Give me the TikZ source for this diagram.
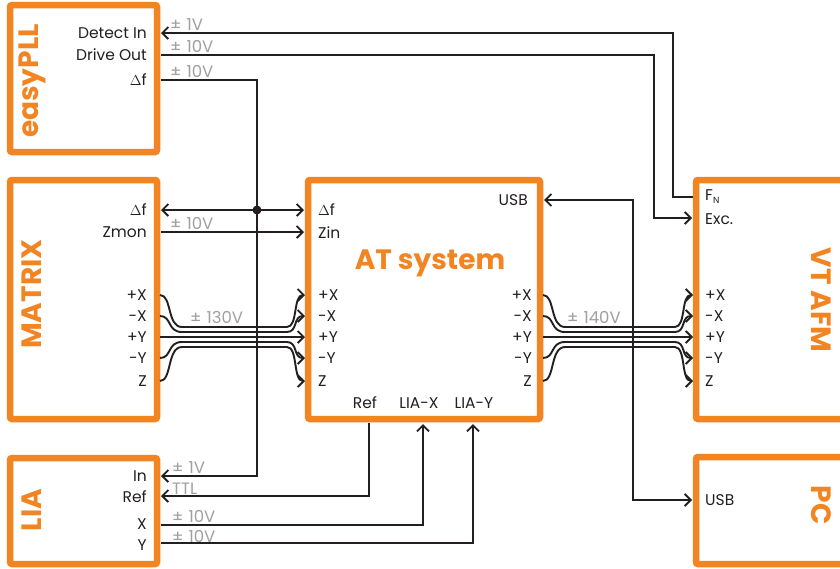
\documentclass[tikz,border=0pt]{standalone}
\usepackage{fontspec}
\setmainfont{Poppins}
\usetikzlibrary{arrows.meta}
\definecolor{orng}{RGB}{242,133,34}
\definecolor{ink}{RGB}{35,31,32}
\definecolor{volt}{RGB}{160,160,160}
\newcommand{\pmv}[1]{±\hspace{5pt}#1}
\tikzset{
  box/.style={draw=orng, line width=6.5pt, rounded corners=2pt, fill=white, inner sep=0pt},
  title/.style={text=orng, font=\fontsize{28}{28}\selectfont\bfseries, inner sep=0pt},
  lbl/.style={text=ink, font=\fontsize{15.5}{15.5}\selectfont, inner sep=0pt},
  lblr/.style={lbl, anchor=east},
  lbll/.style={lbl, anchor=west},
  vlt/.style={text=volt, font=\fontsize{16.5}{16.5}\selectfont, inner sep=0pt, anchor=south west},
  conn/.style={draw=ink, line width=1.9pt, arrows={-}},
  tip/.style={-{Straight Barb[length=6pt,width=12pt,line width=1.9pt]}},
  tips/.style={{Straight Barb[length=6pt,width=12pt,line width=1.9pt]}-{Straight Barb[length=6pt,width=12pt,line width=1.9pt]}},
  jdot/.style={circle, fill=ink, minimum size=9pt, inner sep=0pt},
}
\begin{document}
\begin{tikzpicture}[x=1pt,y=-1pt]
\clip (0,0) rectangle (840,568);
\fill[white] (0,0) rectangle (840,568);

% boxes
\node[box, minimum width=147pt, minimum height=147pt] (pll) at (83.5,78.5) {};
\node[box, minimum width=147pt, minimum height=239pt] (mat) at (83.5,299.5) {};
\node[box, minimum width=147pt, minimum height=106pt] (lia) at (83.5,511) {};
\node[box, minimum width=232pt, minimum height=239pt] (at) at (424,299.5) {};
\node[box, minimum width=180pt, minimum height=239pt] (afm) at (786,299.5) {};
\node[box, minimum width=180pt, minimum height=107pt] (pc) at (786,510.5) {};

% titles
\node[title, rotate=90] (tpll) at (32,81) {easyPLL};
\node[title, rotate=90] (tmat) at (32,294) {MATRIX};
\node[title, rotate=90] (tlia) at (32,510) {LIA};
\node[title, rotate=-90] (tafm) at (821,300) {VT AFM};
\node[title, rotate=-90] (tpc) at (821,505) {PC};
\node[title] (tat) at (430,263) {AT system};

% port labels easyPLL
\node[lblr] (lDet) at (147,33) {Detect In};
\node[lblr] (lDrv) at (147,55) {Drive Out};
\node[lblr] (lDfp) at (147,80) {$\Delta$f};
% MATRIX
\node[lblr] (lDfm) at (147,210) {$\Delta$f};
\node[lblr] (lZm) at (147,232) {Zmon};
\node[lblr] (lm1) at (147,295) {+X};
\node[lblr] (lm2) at (147,316) {-X};
\node[lblr] (lm3) at (147,337) {+Y};
\node[lblr] (lm4) at (147,358) {-Y};
\node[lblr] (lm5) at (147,381) {Z};
% LIA
\node[lblr] (lIn) at (147,476) {In};
\node[lblr] (lRef) at (147,497) {Ref};
\node[lblr] (lX) at (147,524) {X};
\node[lblr] (lY) at (147,545) {Y};
% AT left
\node[lbll] (la0) at (318,210) {$\Delta$f};
\node[lbll] (laz) at (318,233) {Zin};
\node[lbll] (la1) at (318,295) {+X};
\node[lbll] (la2) at (318,316) {-X};
\node[lbll] (la3) at (318,337) {+Y};
\node[lbll] (la4) at (318,358) {-Y};
\node[lbll] (la5) at (318,381) {Z};
% AT right
\node[lblr] (lusb) at (528,200) {USB};
\node[lblr] (lb1) at (532,295) {+X};
\node[lblr] (lb2) at (532,316) {-X};
\node[lblr] (lb3) at (532,337) {+Y};
\node[lblr] (lb4) at (532,358) {-Y};
\node[lblr] (lb5) at (532,381) {Z};
% AT bottom
\node[lbl] (lref) at (365,403) {Ref};
\node[lbl] (llx) at (419,403) {LIA-X};
\node[lbl] (lly) at (474,403) {LIA-Y};
% AFM
\node[lbll] (lfn) at (705,197) {F{\fontsize{9}{9}\selectfont\raisebox{-3pt}{N}}};
\node[lbll] (lexc) at (705,219) {Exc.};
\node[lbll] (lc1) at (705,295) {+X};
\node[lbll] (lc2) at (705,316) {-X};
\node[lbll] (lc3) at (705,337) {+Y};
\node[lbll] (lc4) at (705,358) {-Y};
\node[lbll] (lc5) at (705,381) {Z};
% PC
\node[lbll] (lpc) at (705,500) {USB};

% voltage labels
\node[vlt] (v1) at (170,31) {\pmv{1V}};
\node[vlt] (v2) at (170,53) {\pmv{10V}};
\node[vlt] (v3) at (170,78) {\pmv{10V}};
\node[vlt] (v4) at (170,230) {\pmv{10V}};
\node[vlt] (v5) at (190,324) {\pmv{130V}};
\node[vlt] (v6) at (567,324) {\pmv{140V}};
\node[vlt] (v7) at (172,474) {\pmv{1V}};
\node[vlt] (v8) at (172,495) {TTL};
\node[vlt] (v9) at (172,523) {\pmv{10V}};
\node[vlt] (v10) at (172,543) {\pmv{10V}};

% port coordinates
\coordinate (pDet) at (161,33);
\coordinate (pDrv) at (161,55);
\coordinate (pDf) at (161,80);
\coordinate (mDf) at (161,210);
\coordinate (mZ) at (161,232);
\coordinate (aDf) at (304,210);
\coordinate (aZ) at (304,232);
\coordinate (aUSB) at (544,200);
\coordinate (aRef) at (369,423);
\coordinate (aLX) at (423,424);
\coordinate (aLY) at (473,424);
\coordinate (fFN) at (693,197);
\coordinate (fExc) at (692,218);
\coordinate (cUSB) at (692,500);
\coordinate (iIn) at (161,476);
\coordinate (iRef) at (161,496);
\coordinate (iX) at (161,525);
\coordinate (iY) at (161,543);
\node[jdot] (jn) at (257,210) {};

% connectors
\draw[conn, tip] (fFN) -- ([xshift=-20pt]fFN) |- (pDet);
\draw[conn, tip] (pDrv) -| ([xshift=-38pt]fExc) -- (fExc);
\draw[conn, tip] (pDf) -| (jn.center) -- ([xshift=96pt]iIn) -- (iIn);
\draw[conn, tips] (mDf) -- (aDf);
\draw[conn, tip] (mZ) -- (aZ);
\draw[conn, tips] (aUSB) -| ([xshift=-59pt]cUSB) -- (cUSB);
\draw[conn, tip] (aRef) |- (iRef);
\draw[conn, tip] (iX) -| (aLX);
\draw[conn, tip] (iY) -| (aLY);

% bundles
\foreach \i/\yy/\bb in {1/295/327,2/316/332,4/358/342,5/381/347}{
  \coordinate (ms\i) at (160,\yy);
  \coordinate (ae\i) at (305,\yy);
  \coordinate (as\i) at (543,\yy);
  \coordinate (fe\i) at (693,\yy);
  \draw[conn, tip] (ms\i) .. controls (172,\yy) and (167,\bb) .. (182,\bb) -- (287,\bb) .. controls (298,\bb) and (293,\yy) .. (ae\i);
  \draw[conn, tip] (as\i) .. controls (555,\yy) and (550,\bb) .. (565,\bb) -- (675,\bb) .. controls (686,\bb) and (681,\yy) .. (fe\i);
}
\coordinate (ms3) at (160,337);
\coordinate (ae3) at (305,337);
\coordinate (as3) at (543,337);
\coordinate (fe3) at (693,337);
\draw[conn, tip] (ms3) -- (ae3);
\draw[conn, tip] (as3) -- (fe3);
\end{tikzpicture}
\end{document}
